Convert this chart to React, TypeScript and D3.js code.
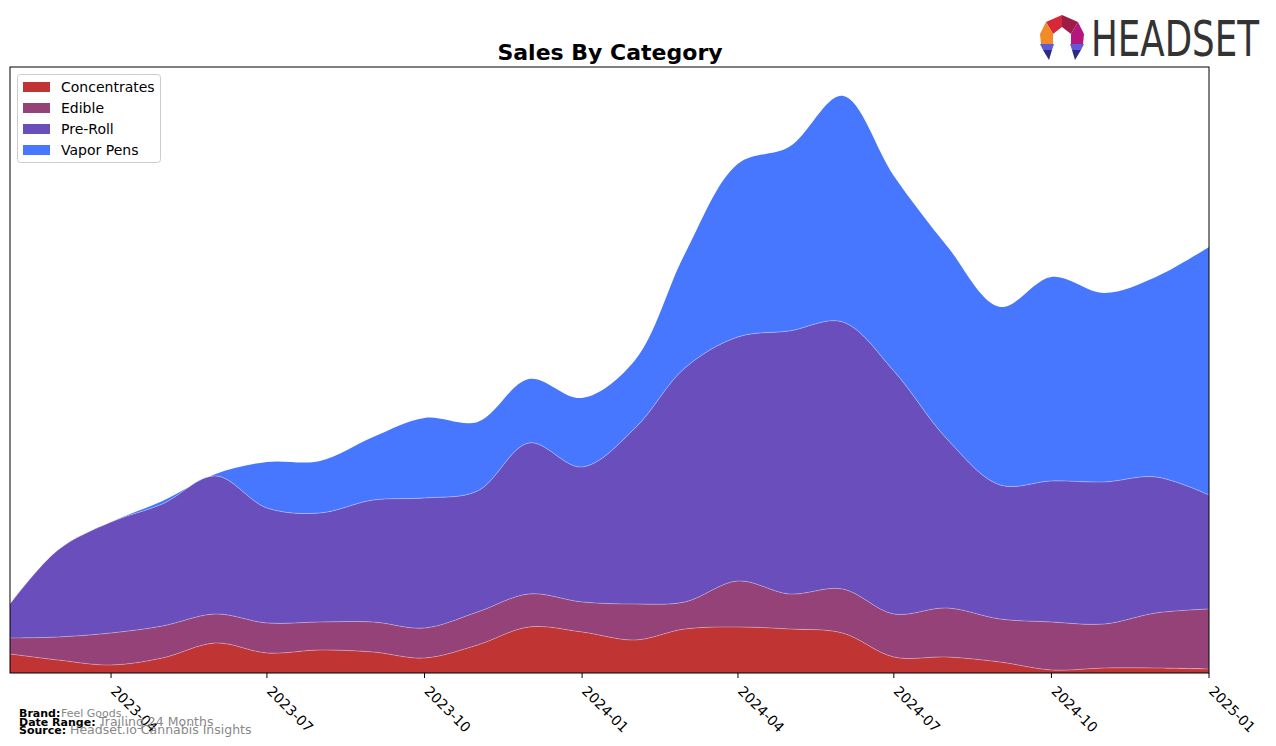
import React from "react";
import * as d3 from "d3";

const months = [
  "2023-02", "2023-03", "2023-04", "2023-05", "2023-06", "2023-07", "2023-08", "2023-09",
  "2023-10", "2023-11", "2023-12", "2024-01", "2024-02", "2024-03", "2024-04", "2024-05",
  "2024-06", "2024-07", "2024-08", "2024-09", "2024-10", "2024-11", "2024-12", "2025-01",
];

const concentrates = [19, 13, 8, 15, 30, 20, 23, 21, 15, 28, 46, 41, 33, 44, 46, 44, 40, 16, 16, 11, 3, 5, 5, 4];
const edible = [16, 23, 32, 32, 29, 30, 28, 30, 30, 33, 33, 30, 36, 27, 46, 35, 44, 43, 49, 43, 48, 44, 55, 60];
const preRoll = [34, 87, 111, 122, 138, 115, 109, 122, 130, 121, 151, 135, 176, 234, 244, 263, 267, 243, 169, 134, 141, 142, 136, 114];
const vaporPens = [0, 0, 0, 3, 2, 46, 52, 63, 80, 69, 64, 69, 68, 114, 173, 184, 226, 195, 193, 178, 204, 189, 200, 248];

const seriesNames = ["Concentrates", "Edible", "Pre-Roll", "Vapor Pens"];
const seriesColors = ["#C03434", "#954279", "#6A4FBC", "#4877FF"];
const tickLabels = ["2023-04", "2023-07", "2023-10", "2024-01", "2024-04", "2024-07", "2024-10", "2025-01"];

const W = 1276;
const H = 746;
const M = { left: 10, right: 1209, top: 67, bottom: 673 };

export default function App() {
  const parse = d3.timeParse("%Y-%m");
  const rows = months.map((m, i) => ({
    date: parse(m) as Date,
    Concentrates: concentrates[i],
    Edible: edible[i],
    "Pre-Roll": preRoll[i],
    "Vapor Pens": vaporPens[i],
  }));

  const x = d3
    .scaleTime()
    .domain([rows[0].date, rows[rows.length - 1].date])
    .range([M.left, M.right]);
  const totals = rows.map((r) => seriesNames.reduce((s, k) => s + (r as any)[k], 0));
  const y = d3
    .scaleLinear()
    .domain([0, (d3.max(totals) as number) * 1.05])
    .range([M.bottom, M.top]);

  const stack = d3.stack<any>().keys(seriesNames);
  const layers = stack(rows);
  const area = d3
    .area<any>()
    .x((d) => x(d.data.date))
    .y0((d) => y(d[0]))
    .y1((d) => y(d[1]))
    .curve(d3.curveCatmullRom.alpha(0.5));
  const line = d3
    .line<any>()
    .x((d) => x(d.data.date))
    .y((d) => y(d[1]))
    .curve(d3.curveCatmullRom.alpha(0.5));

  const ticks = tickLabels.map((t) => parse(t) as Date);
  const fmt = d3.timeFormat("%Y-%m");
  const font = "'DejaVu Sans', sans-serif";

  return (
    <svg
      width={W}
      height={H}
      style={{ position: "absolute", left: 0, top: 0, background: "#fff" }}
      fontFamily={font}
    >
      <defs>
        <clipPath id="plotclip">
          <rect x={M.left} y={M.top} width={M.right - M.left} height={M.bottom - M.top} />
        </clipPath>
      </defs>
      <g clipPath="url(#plotclip)">
        {layers.map((layer, i) => (
          <path key={layer.key} d={area(layer) || ""} fill={seriesColors[i]} />
        ))}
        {layers.slice(0, 3).map((layer) => (
          <path
            key={"l" + layer.key}
            d={line(layer) || ""}
            fill="none"
            stroke="#ffffff"
            strokeOpacity={0.3}
            strokeWidth={1}
          />
        ))}
      </g>
      <rect
        x={M.left}
        y={M.top}
        width={M.right - M.left}
        height={M.bottom - M.top}
        fill="none"
        stroke="#000"
        strokeWidth={1}
      />
      {ticks.map((t, i) => (
        <g key={i} transform={`translate(${x(t)},${M.bottom})`}>
          <line y1={0} y2={5} stroke="#000" strokeWidth={1} />
          <text
            transform="translate(-1,19) rotate(45)"
            fontSize={14}
            textAnchor="start"
            fill="#000"
          >
            {fmt(t)}
          </text>
        </g>
      ))}
      <text x={610} y={60} textAnchor="middle" fontSize={22} fontWeight="bold" fill="#000">
        Sales By Category
      </text>
      <g>
        <rect x={17.5} y={74.5} width={143} height={88} rx={3} fill="#fff" fillOpacity={0.8} stroke="#cccccc" />
        {seriesNames.map((n, i) => (
          <g key={n} transform={`translate(0,${87 + i * 21})`}>
            <rect x={23} y={-5} width={27} height={10} fill={seriesColors[i]} />
            <text x={61} y={5} fontSize={14} fill="#000">
              {n}
            </text>
          </g>
        ))}
      </g>
      <g fontSize={11}>
        <text x={19} y={717} fontWeight="bold" fontSize={11}>Brand:</text>
        <text x={61} y={717} fill="#888">Feel Goods</text>
        <text x={19} y={725.5} fontWeight="bold" fontSize={11}>Date Range:</text>
        <text x={99} y={726} fill="#888" fontSize={12.5}>Trailing 24 Months</text>
        <text x={19} y={734} fontWeight="bold" fontSize={11}>Source:</text>
        <text x={70} y={734} fill="#888" fontSize={12.5}>Headset.io Cannabis Insights</text>
      </g>
      <g>
        <polygon points="1062,15 1046,22 1053,34 1062,27" fill="#D62839" />
        <polygon points="1062,15 1078,22 1071,34 1062,27" fill="#9E1B45" />
        <polygon points="1046,22 1040,34 1041,44 1053,44 1053,34" fill="#F28A2A" />
        <polygon points="1078,22 1084,34 1083,44 1071,44 1071,34" fill="#B3177F" />
        <polygon points="1040,44 1054,44 1052,50 1043,50" fill="#5E5AD8" />
        <polygon points="1043,50 1052,50 1049,60" fill="#2D2A84" />
        <polygon points="1070,44 1084,44 1081,50 1072,50" fill="#5E5AD8" />
        <polygon points="1072,50 1081,50 1075,60" fill="#2D2A84" />
        <text
          x={1091}
          y={56}
          fontSize={49}
          fill="#333333"
          fontFamily="'Liberation Sans Narrow', 'DejaVu Sans Condensed', 'Roboto', sans-serif"
          textLength={168}
          lengthAdjust="spacingAndGlyphs"
        >
          HEADSET
        </text>
      </g>
    </svg>
  );
}
